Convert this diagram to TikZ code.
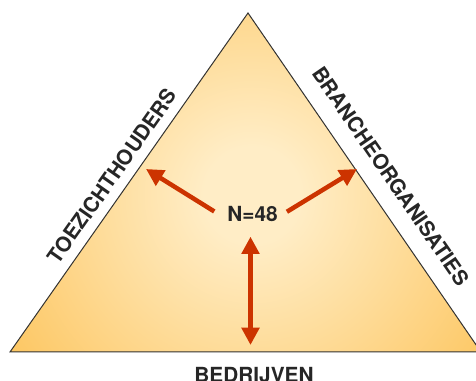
\documentclass[tikz,border=0pt]{standalone}
\usepackage{fontspec}
\newfontfamily\heros{TeX Gyre Heros}
\usetikzlibrary{arrows.meta}
\definecolor{glowcore}{RGB}{255,237,198}
\definecolor{glowedge}{RGB}{253,199,99}
\definecolor{arrowred}{RGB}{204,51,0}
\definecolor{inkgray}{RGB}{38,38,38}
\pgfdeclareradialshading{triglow}{\pgfpointorigin}{color(0bp)=(glowcore); color(4bp)=(glowcore); color(24bp)=(glowedge); color(50bp)=(glowedge)}
\tikzset{
  sidelabel/.style={font=\heros\bfseries\fontsize{15.6}{18}\selectfont, text=inkgray, inner sep=0pt},
  relation/.style={arrowred, line width=3.4pt},
  redtip/.tip={Triangle[length=13pt,width=13pt]},
}

\begin{document}
\begin{tikzpicture}[x=0.75pt,y=0.75pt]
\useasboundingbox (0,0) rectangle (476,381);
\clip (0,0) rectangle (476,381);
\coordinate (baseL) at (10,29);
\coordinate (apex) at (248,368);
\coordinate (baseR) at (481,29);
\begin{scope}
\clip (baseL) -- (apex) -- (baseR) -- cycle;
\fill[glowedge] (baseL) -- (apex) -- (baseR) -- cycle;
\shade[shading=triglow] (252,186) circle (300);
\end{scope}
\draw[black!80, line width=0.75pt] (baseL) -- (apex) -- (baseR) -- cycle;

\node[sidelabel, rotate=54.9] (toezicht) at (112,205) {TOEZICHTHOUDERS};
\node[sidelabel, rotate=-55.5] (branche) at (391,205) {BRANCHEORGANISATIES};
\node[sidelabel, anchor=base] (bedrijven) at (254,-2) {BEDRIJVEN};

\coordinate (hub) at (250.5,147);
\node[sidelabel, anchor=base] (count) at (252.5,159) {N=48};
\coordinate (tipL) at (146,212);
\coordinate (tipR) at (357,212);
\coordinate (tipD) at (250.5,36);
\draw[relation, -redtip, shorten <=32pt] (hub) -- (tipL);
\draw[relation, -redtip, shorten <=32pt] (hub) -- (tipR);
\draw[relation, redtip-redtip, shorten <=2pt] (hub) -- (tipD);
\end{tikzpicture}
\end{document}
